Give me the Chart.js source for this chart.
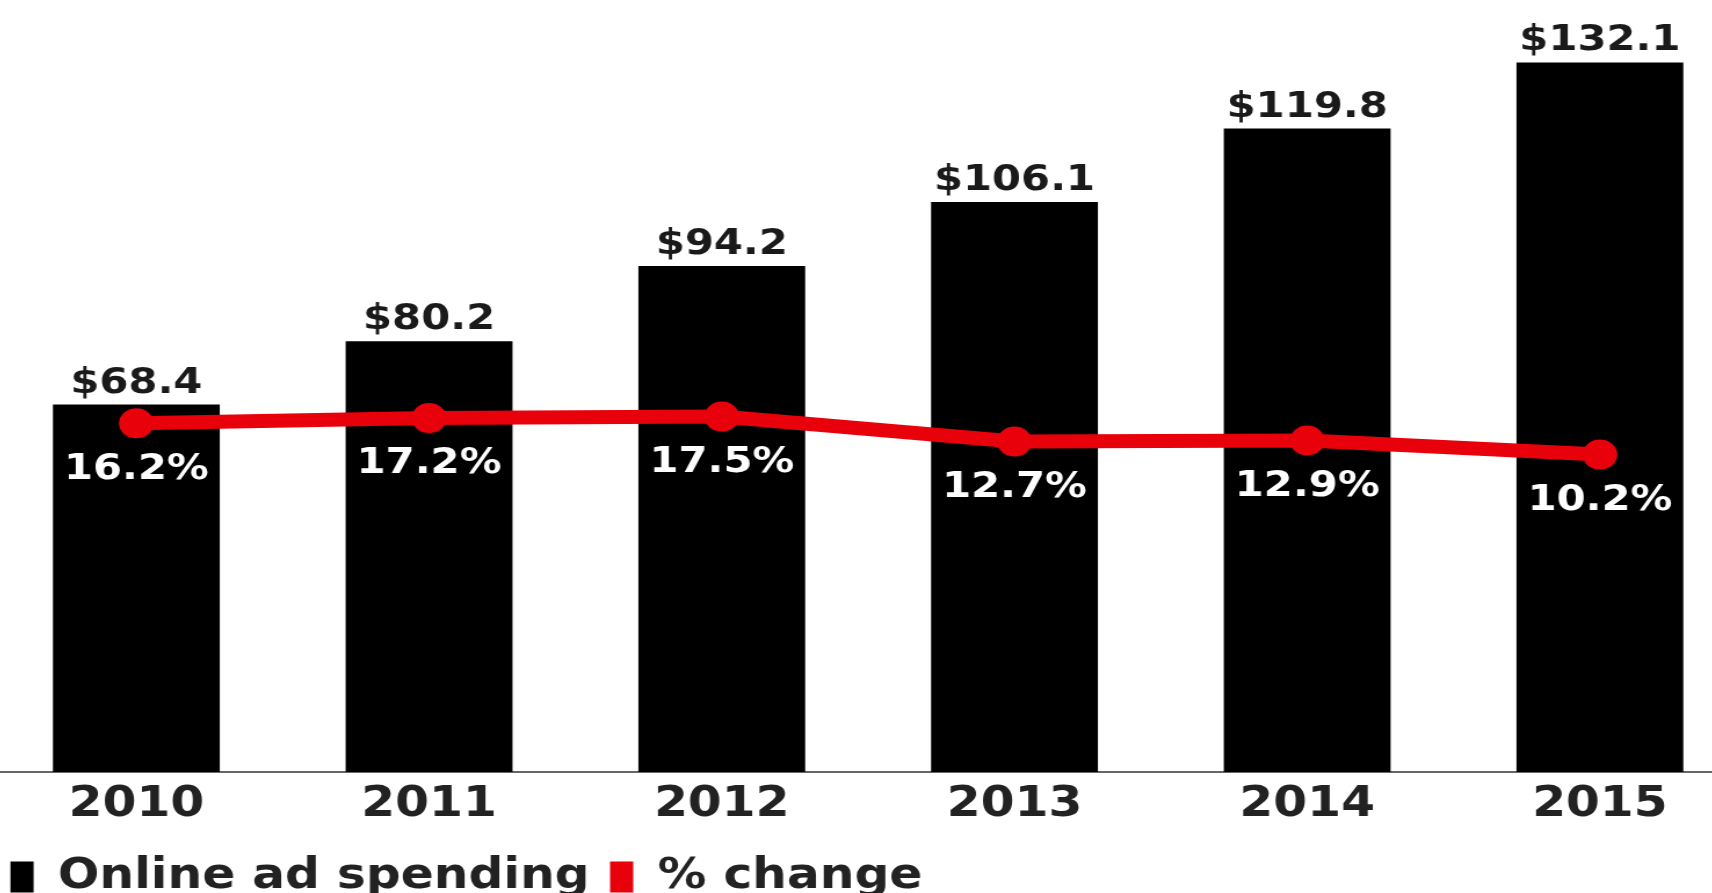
<!DOCTYPE html>
<html>
<head>
<meta charset="utf-8">
<title>Online ad spending</title>
<script src="https://cdn.jsdelivr.net/npm/chart.js@4"></script>
<style>
    html, body { margin: 0; padding: 0; background: #fff; overflow: hidden; width: 1712px; height: 893px; }
    /* the reference text is drawn wide, so the whole canvas is stretched a little */
    #myChart { position: absolute; left: -10px; top: 0; transform: scaleX(1.16); transform-origin: 0 0; }
</style>
</head>
<body>
<canvas id="myChart" width="1514" height="908"></canvas>
<script>
const years = ['2010', '2011', '2012', '2013', '2014', '2015'];
const spending = [68.4, 80.2, 94.2, 106.1, 119.8, 132.1];   // $ billions
const change = [16.2, 17.2, 17.5, 12.7, 12.9, 10.2];         // % change

const RED = '#e8000b';

// labels on top of the bars and under the red dots
const valueLabels = {
    id: 'valueLabels',
    afterDatasetsDraw(chart) {
        const ctx = chart.ctx;
        const bars = chart.getDatasetMeta(0).data;
        const dots = chart.getDatasetMeta(1).data;
        ctx.save();
        ctx.font = 'bold 36px "DejaVu Sans"';
        ctx.textAlign = 'center';
        bars.forEach(function (bar, i) {
            ctx.fillStyle = '#1a1a1a';
            ctx.textBaseline = 'alphabetic';
            ctx.fillText('$' + spending[i].toFixed(1), bar.x, bar.y - 12);
        });
        dots.forEach(function (pt, i) {
            ctx.fillStyle = '#fff';
            ctx.textBaseline = 'middle';
            ctx.fillText(change[i].toFixed(1) + '%', pt.x, pt.y + 46);
        });
        ctx.restore();
    }
};

var ctx = document.getElementById('myChart').getContext('2d');
var myChart = new Chart(ctx, {
    type: 'bar',
    data: {
        labels: years,
        datasets: [
            {
                type: 'bar',
                label: 'Online ad spending',
                data: spending,
                backgroundColor: '#000',
                borderColor: '#000',
                borderWidth: 0,
                barPercentage: 0.57,
                categoryPercentage: 1,
                yAxisID: 'y',
                order: 2
            },
            {
                type: 'line',
                label: '% change',
                data: change,
                borderColor: RED,
                backgroundColor: RED,
                borderWidth: 14,
                pointRadius: 15,
                pointBackgroundColor: RED,
                pointBorderWidth: 0,
                tension: 0,
                clip: false,
                yAxisID: 'y1',
                order: 1
            }
        ]
    },
    options: {
        responsive: false,
        animation: false,
        devicePixelRatio: 1,
        layout: { autoPadding: false, padding: { top: 20, left: 0, right: 0, bottom: 0 } },
        scales: {
            x: {
                grid: { display: false, drawTicks: false },
                border: { display: true, color: '#666', width: 2 },
                ticks: {
                    color: '#222',
                    padding: 8,
                    font: { family: 'DejaVu Sans', size: 42, weight: 'bold' }
                }
            },
            y: {
                display: false,
                min: 0,
                max: 140
            },
            y1: {
                display: false,
                min: -50.8,
                max: 93.7
            }
        },
        plugins: {
            tooltip: { enabled: false },
            legend: {
                position: 'bottom',
                align: 'start',
                labels: {
                    color: '#222',
                    boxWidth: 20,
                    boxHeight: 31,
                    padding: 17.6,
                    font: { family: 'DejaVu Sans', size: 42, weight: 'bold' },
                    sort: function (a, b) { return a.datasetIndex - b.datasetIndex; },
                    generateLabels: function (chart) {
                        return Chart.defaults.plugins.legend.labels.generateLabels(chart).map(function (item) {
                            item.lineWidth = 0;
                            item.fillStyle = item.strokeStyle;
                            return item;
                        });
                    }
                }
            }
        }
    },
    plugins: [valueLabels]
});
</script>
</body>
</html>
